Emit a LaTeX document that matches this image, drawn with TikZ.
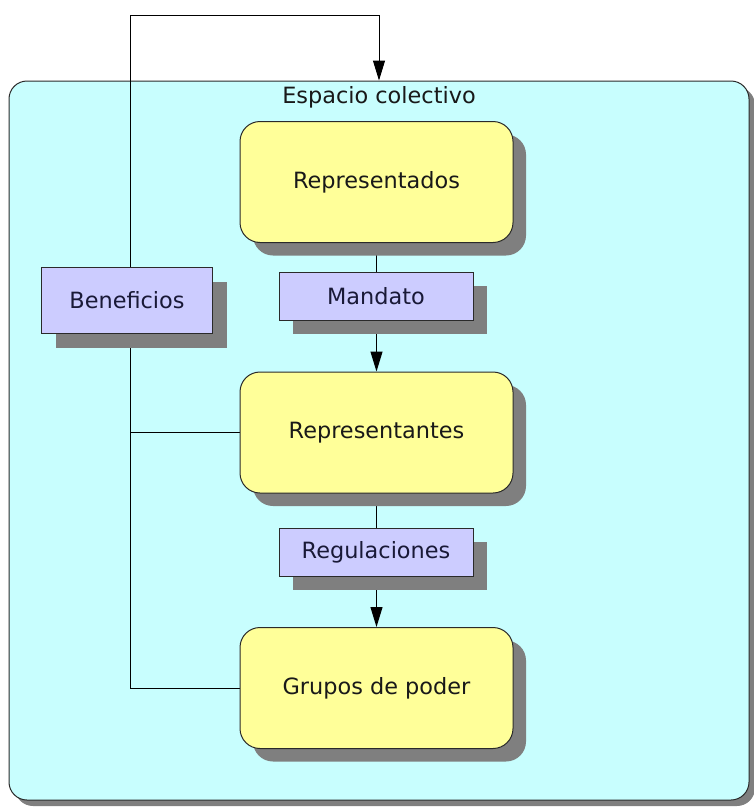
\documentclass[tikz,border=0pt]{standalone}
\usepackage{fontspec}
\setmainfont{DejaVu Sans}
\usetikzlibrary{shadows,arrows.meta}
\pgfdeclarelayer{bg}
\pgfdeclarelayer{lines}
\pgfsetlayers{bg,lines,main}
\definecolor{outerfill}{HTML}{C8FEFE}
\definecolor{yel}{HTML}{FFFF99}
\definecolor{lav}{HTML}{CCCCFF}
\definecolor{shad}{HTML}{7F7F7F}
\definecolor{edge}{HTML}{2A2A2A}
\tikzset{
  txt/.style={font=\fontsize{22.4}{27}\selectfont},
  bigbox/.style={txt, draw=edge, line width=1pt, fill=yel, rounded corners=20pt,
    minimum width=273pt, minimum height=121pt, text=black!90,
    drop shadow={shadow xshift=13pt, shadow yshift=-13pt, fill=shad, opacity=1}},
  smallbox/.style={txt, draw=edge, line width=1pt, fill=lav,
    minimum width=194pt, minimum height=48pt, text={rgb,255:red,25;green,25;blue,55},
    drop shadow={shadow xshift=14pt, shadow yshift=-14pt, fill=shad, opacity=1}},
  conn/.style={line width=1pt, draw=black},
  arr/.style={conn, -{Triangle[length=20pt,width=12pt]}}
}
\begin{document}
\begin{tikzpicture}[x=1pt,y=-1pt]
\useasboundingbox (0,0) rectangle (754,809);
\begin{pgfonlayer}{bg}
\node[draw=edge, line width=1pt, fill=outerfill, rounded corners=18pt,
  minimum width=740pt, minimum height=719pt,
  drop shadow={shadow xshift=6pt, shadow yshift=-6pt, fill=shad, opacity=1}]
  (outer) at (379,440.5) {};
\end{pgfonlayer}
\node[txt, text=black!90] (title) at (379,97) {Espacio colectivo};
\node[bigbox] (rdos) at (376.5,182) {Representados};
\node[smallbox] (mand) at (376,296) {Mandato};
\node[bigbox] (rtes) at (376.5,432.5) {Representantes};
\node[smallbox] (regu) at (376,552) {Regulaciones};
\node[bigbox] (grup) at (376.5,688) {Grupos de poder};
\node[smallbox, minimum width=171pt, minimum height=66pt] (benef) at (127,300.5) {Beneficios};
\coordinate (topL) at (130,15);
\begin{pgfonlayer}{lines}
\draw[arr] (rdos) -- (rtes);
\draw[arr] (rtes) -- (grup);
\draw[arr] (grup.west) -| (topL) -| (outer.north);
\draw[conn] (rtes.west) -- (rtes.west -| topL);
\end{pgfonlayer}
\end{tikzpicture}
\end{document}
